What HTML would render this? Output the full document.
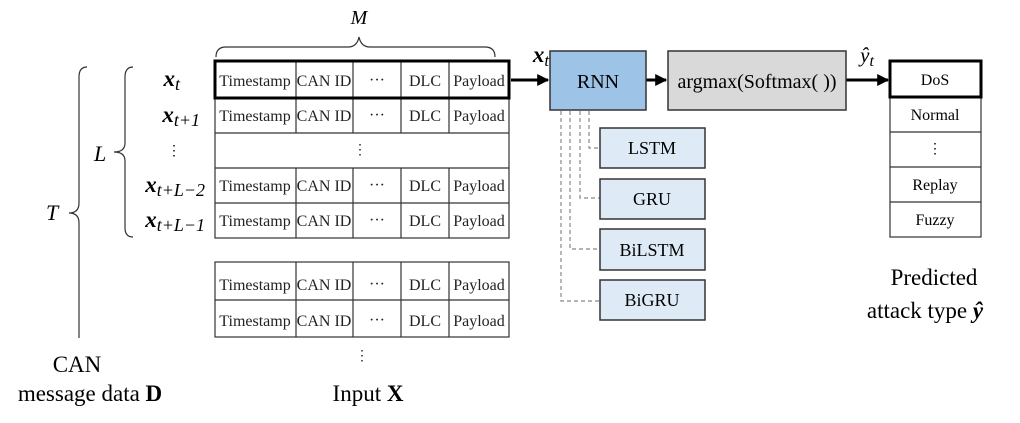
<!DOCTYPE html><html><head><style>body{margin:0;background:#fff}</style></head><body>
<svg width="1020" height="418" viewBox="0 0 1020 418" xmlns="http://www.w3.org/2000/svg" font-family="Liberation Serif, serif">
<defs><marker id="a" viewBox="0 0 10 10" refX="9" refY="5" markerWidth="4" markerHeight="4" orient="auto"><path d="M0,0L10,5L0,10z" fill="#000"/></marker></defs>
<g fill="none" stroke="#333" stroke-width="1.2">
<path d="M216,57 Q216,47 226,47 L348,47 Q357,47 359,37 Q361,47 370,47 L485,47 Q495,47 495,57"/>
<path d="M87,67 Q79,67 79,77 L79,203 Q79,213 69,213 Q79,213 79,223 L79,338"/>
<path d="M133,67 Q125,67 125,77 L125,143 Q125,152 114,152 Q125,152 125,161 L125,228 Q125,237 133,237"/>
</g>
<g font-size="22" font-style="italic">
<text x="359" y="24" text-anchor="middle" font-size="20">M</text>
<text x="46" y="220">T</text><text x="94" y="161">L</text>
</g>
<g font-size="23" font-weight="bold" font-style="italic" text-anchor="end">
<text x="180" y="86">x<tspan font-size="18" font-weight="normal" dy="4">t</tspan></text>
<text x="200" y="122">x<tspan font-size="18" font-weight="normal" dy="4">t+1</tspan></text>
<text x="205" y="192">x<tspan font-size="18" font-weight="normal" dy="4">t+L−2</tspan></text>
<text x="205" y="227">x<tspan font-size="18" font-weight="normal" dy="4">t+L−1</tspan></text>
<text x="541" y="62" text-anchor="middle">x<tspan font-size="17" font-weight="normal" dy="4">t</tspan></text>
</g>
<text x="174" y="155" font-size="14" text-anchor="middle">⋮</text>
<g stroke="#333" stroke-width="1.2" fill="none">
<rect x="215" y="61" width="294" height="177"/>
<line x1="215" y1="98" x2="509" y2="98"/><line x1="215" y1="133" x2="509" y2="133"/><line x1="215" y1="168" x2="509" y2="168"/><line x1="215" y1="203" x2="509" y2="203"/>
<path d="M296,61V133M353,61V133M401,61V133M449,61V133M296,168V238M353,168V238M401,168V238M449,168V238"/>
<rect x="215" y="262" width="294" height="75"/><line x1="215" y1="300" x2="509" y2="300"/>
<path d="M296,262V337M353,262V337M401,262V337M449,262V337"/>
</g>
<rect x="215" y="61" width="294" height="37" fill="none" stroke="#000" stroke-width="3"/>
<g font-size="16" text-anchor="middle" fill="#222">
<g id="r"><text x="255" y="86">Timestamp</text><text x="324" y="86">CAN ID</text><text x="377" y="85">···</text><text x="425" y="86">DLC</text><text x="479" y="86">Payload</text></g>
<use href="#r" y="35"/><use href="#r" y="105"/><use href="#r" y="140"/><use href="#r" y="204"/><use href="#r" y="240"/>
<text x="360" y="154" font-size="14">⋮</text><text x="362" y="360" font-size="14">⋮</text>
</g>
<line x1="511" y1="80" x2="548" y2="80" stroke="#000" stroke-width="3" marker-end="url(#a)"/>
<line x1="646" y1="80" x2="666" y2="80" stroke="#000" stroke-width="3" marker-end="url(#a)"/>
<line x1="846" y1="80" x2="888" y2="80" stroke="#000" stroke-width="3" marker-end="url(#a)"/>
<rect x="550" y="51" width="96" height="59" fill="#9dc3e6" stroke="#333" stroke-width="1.5"/>
<text x="598" y="88" font-size="20" text-anchor="middle">RNN</text>
<rect x="668" y="51" width="178" height="59" fill="#d9d9d9" stroke="#333" stroke-width="1.5"/>
<text x="757" y="88" font-size="20" text-anchor="middle">argmax(Softmax( ))</text>
<text x="867" y="62" font-size="21" font-style="italic" text-anchor="middle">ŷ<tspan font-size="16" dy="4">t</tspan></text>
<g stroke="#888" stroke-width="1.2" stroke-dasharray="4,3" fill="none">
<path d="M589,111V148H600M580,111V198H600M570,111V249H600M561,111V301H600"/>
</g>
<g fill="#deebf7" stroke="#333" stroke-width="1.5">
<rect x="600" y="128" width="105" height="40"/><rect x="600" y="179" width="105" height="40"/><rect x="600" y="229" width="105" height="41"/><rect x="600" y="280" width="105" height="40"/>
</g>
<g font-size="18" text-anchor="middle"><text x="652" y="154">LSTM</text><text x="652" y="205">GRU</text><text x="652" y="256">BiLSTM</text><text x="652" y="306">BiGRU</text></g>
<g stroke="#333" stroke-width="1.2" fill="none"><rect x="890" y="61" width="91" height="176"/><path d="M890,132H981M890,167H981M890,202H981"/></g>
<rect x="890" y="61" width="91" height="36" fill="none" stroke="#000" stroke-width="3"/>
<g font-size="16" text-anchor="middle"><text x="935" y="85">DoS</text><text x="935" y="120">Normal</text><text x="935" y="153" font-size="14">⋮</text><text x="935" y="190">Replay</text><text x="935" y="225">Fuzzy</text></g>
<g font-size="23" text-anchor="middle">
<text x="934" y="285">Predicted</text><text x="925" y="318">attack type <tspan font-weight="bold" font-style="italic">ŷ</tspan></text>
<text x="77" y="372">CAN</text><text x="90" y="401">message data <tspan font-weight="bold">D</tspan></text>
<text x="368" y="401">Input <tspan font-weight="bold">X</tspan></text>
</g>
</svg></body></html>
